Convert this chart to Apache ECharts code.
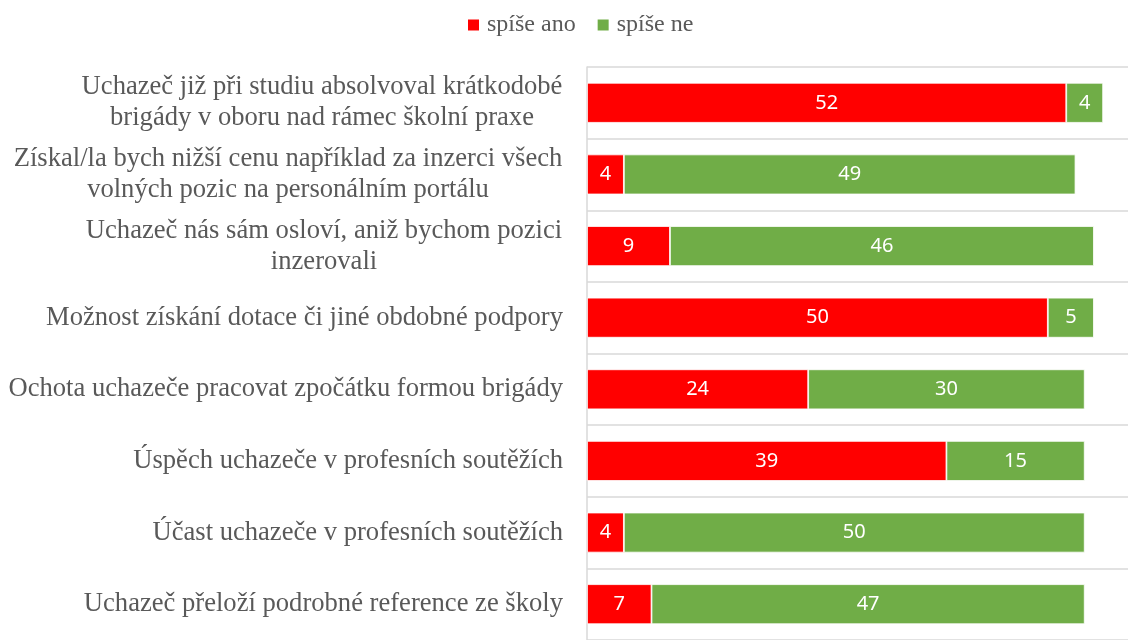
<!DOCTYPE html>
<html>
<head>
<meta charset="utf-8">
<script src="https://cdn.jsdelivr.net/npm/echarts@6/dist/echarts.min.js"></script>
<style>
  html, body { margin: 0; padding: 0; background: #fff; }
  #chart { width: 1128px; height: 640px; }
</style>
</head>
<body>
<div id="chart"></div>
<script>
// Survey factors (top to bottom) and answer counts
const categories = [
  'Uchazeč již při studiu absolvoval krátkodobé\nbrigády v oboru nad rámec školní praxe',
  'Získal/la bych nižší cenu například za inzerci všech\nvolných pozic na personálním portálu',
  'Uchazeč nás sám osloví, aniž bychom pozici\ninzerovali',
  'Možnost získání dotace či jiné obdobné podpory',
  'Ochota uchazeče pracovat zpočátku formou brigády',
  'Úspěch uchazeče v profesních soutěžích',
  'Účast uchazeče v profesních soutěžích',
  'Uchazeč přeloží podrobné reference ze školy'
];
const spiseAno = [52, 4, 9, 50, 24, 39, 4, 7];
const spiseNe = [4, 49, 46, 5, 30, 15, 50, 47];
const seriesNames = ['spíše ano', 'spíše ne'];

const LABEL_SIZE = 26.6;
const LINE_H = 31;
const labelFont = LABEL_SIZE + 'px "Liberation Serif"';

// Multi-line labels: lines centred within a block that is right-aligned to the axis
const ctx = document.createElement('canvas').getContext('2d');
ctx.font = labelFont;
const rich = {};
categories.forEach((c, i) => {
  const lines = c.split('\n');
  const w = Math.max(...lines.map(l => ctx.measureText(l).width));
  rich['l' + i] = {
    width: Math.ceil(w) + 1, align: 'center',
    fontFamily: 'Liberation Serif', fontSize: LABEL_SIZE, color: '#595959', lineHeight: LINE_H
  };
});

const chart = echarts.init(document.getElementById('chart'), null, { renderer: 'canvas' });

const barLabel = {
  show: true, position: 'inside', color: '#fff',
  fontFamily: 'Noto Sans', fontSize: 20
};

chart.setOption({
  animation: false,
  legend: {
    top: 8, left: 461,
    itemWidth: 13, itemHeight: 13, itemGap: 20,
    icon: 'rect',
    textStyle: { fontFamily: 'Liberation Serif', fontSize: 24, color: '#595959', padding: [0, 0, 0, 2] },
    data: seriesNames
  },
  grid: { left: 587, right: 0, top: 67, height: 581.6, containLabel: false },
  xAxis: {
    type: 'value', min: 0, max: 58.7,
    show: false
  },
  yAxis: {
    type: 'category', inverse: true, data: categories,
    axisLine: { lineStyle: { color: '#d9d9d9', width: 1.5 } },
    axisTick: { show: false },
    splitLine: { show: true, lineStyle: { color: '#d9d9d9', width: 1.5 } },
    axisLabel: {
      margin: 24,
      fontFamily: 'Liberation Serif', fontSize: LABEL_SIZE, color: '#595959', lineHeight: LINE_H,
      formatter: (v, i) => {
        const lines = v.split('\n');
        if (lines.length === 1) return v;
        return lines.map(l => '{l' + i + '|' + l + '}').join('\n');
      },
      rich: rich
    }
  },
  series: [
    {
      name: seriesNames[0], type: 'bar', stack: 'total', data: spiseAno,
      barWidth: 40,
      itemStyle: { color: '#ff0000', borderColor: '#ffffff', borderWidth: 0.8 },
      label: barLabel
    },
    {
      name: seriesNames[1], type: 'bar', stack: 'total', data: spiseNe,
      barWidth: 40,
      itemStyle: { color: '#70ad47', borderColor: '#ffffff', borderWidth: 0.8 },
      label: barLabel
    }
  ]
});
</script>
</body>
</html>
